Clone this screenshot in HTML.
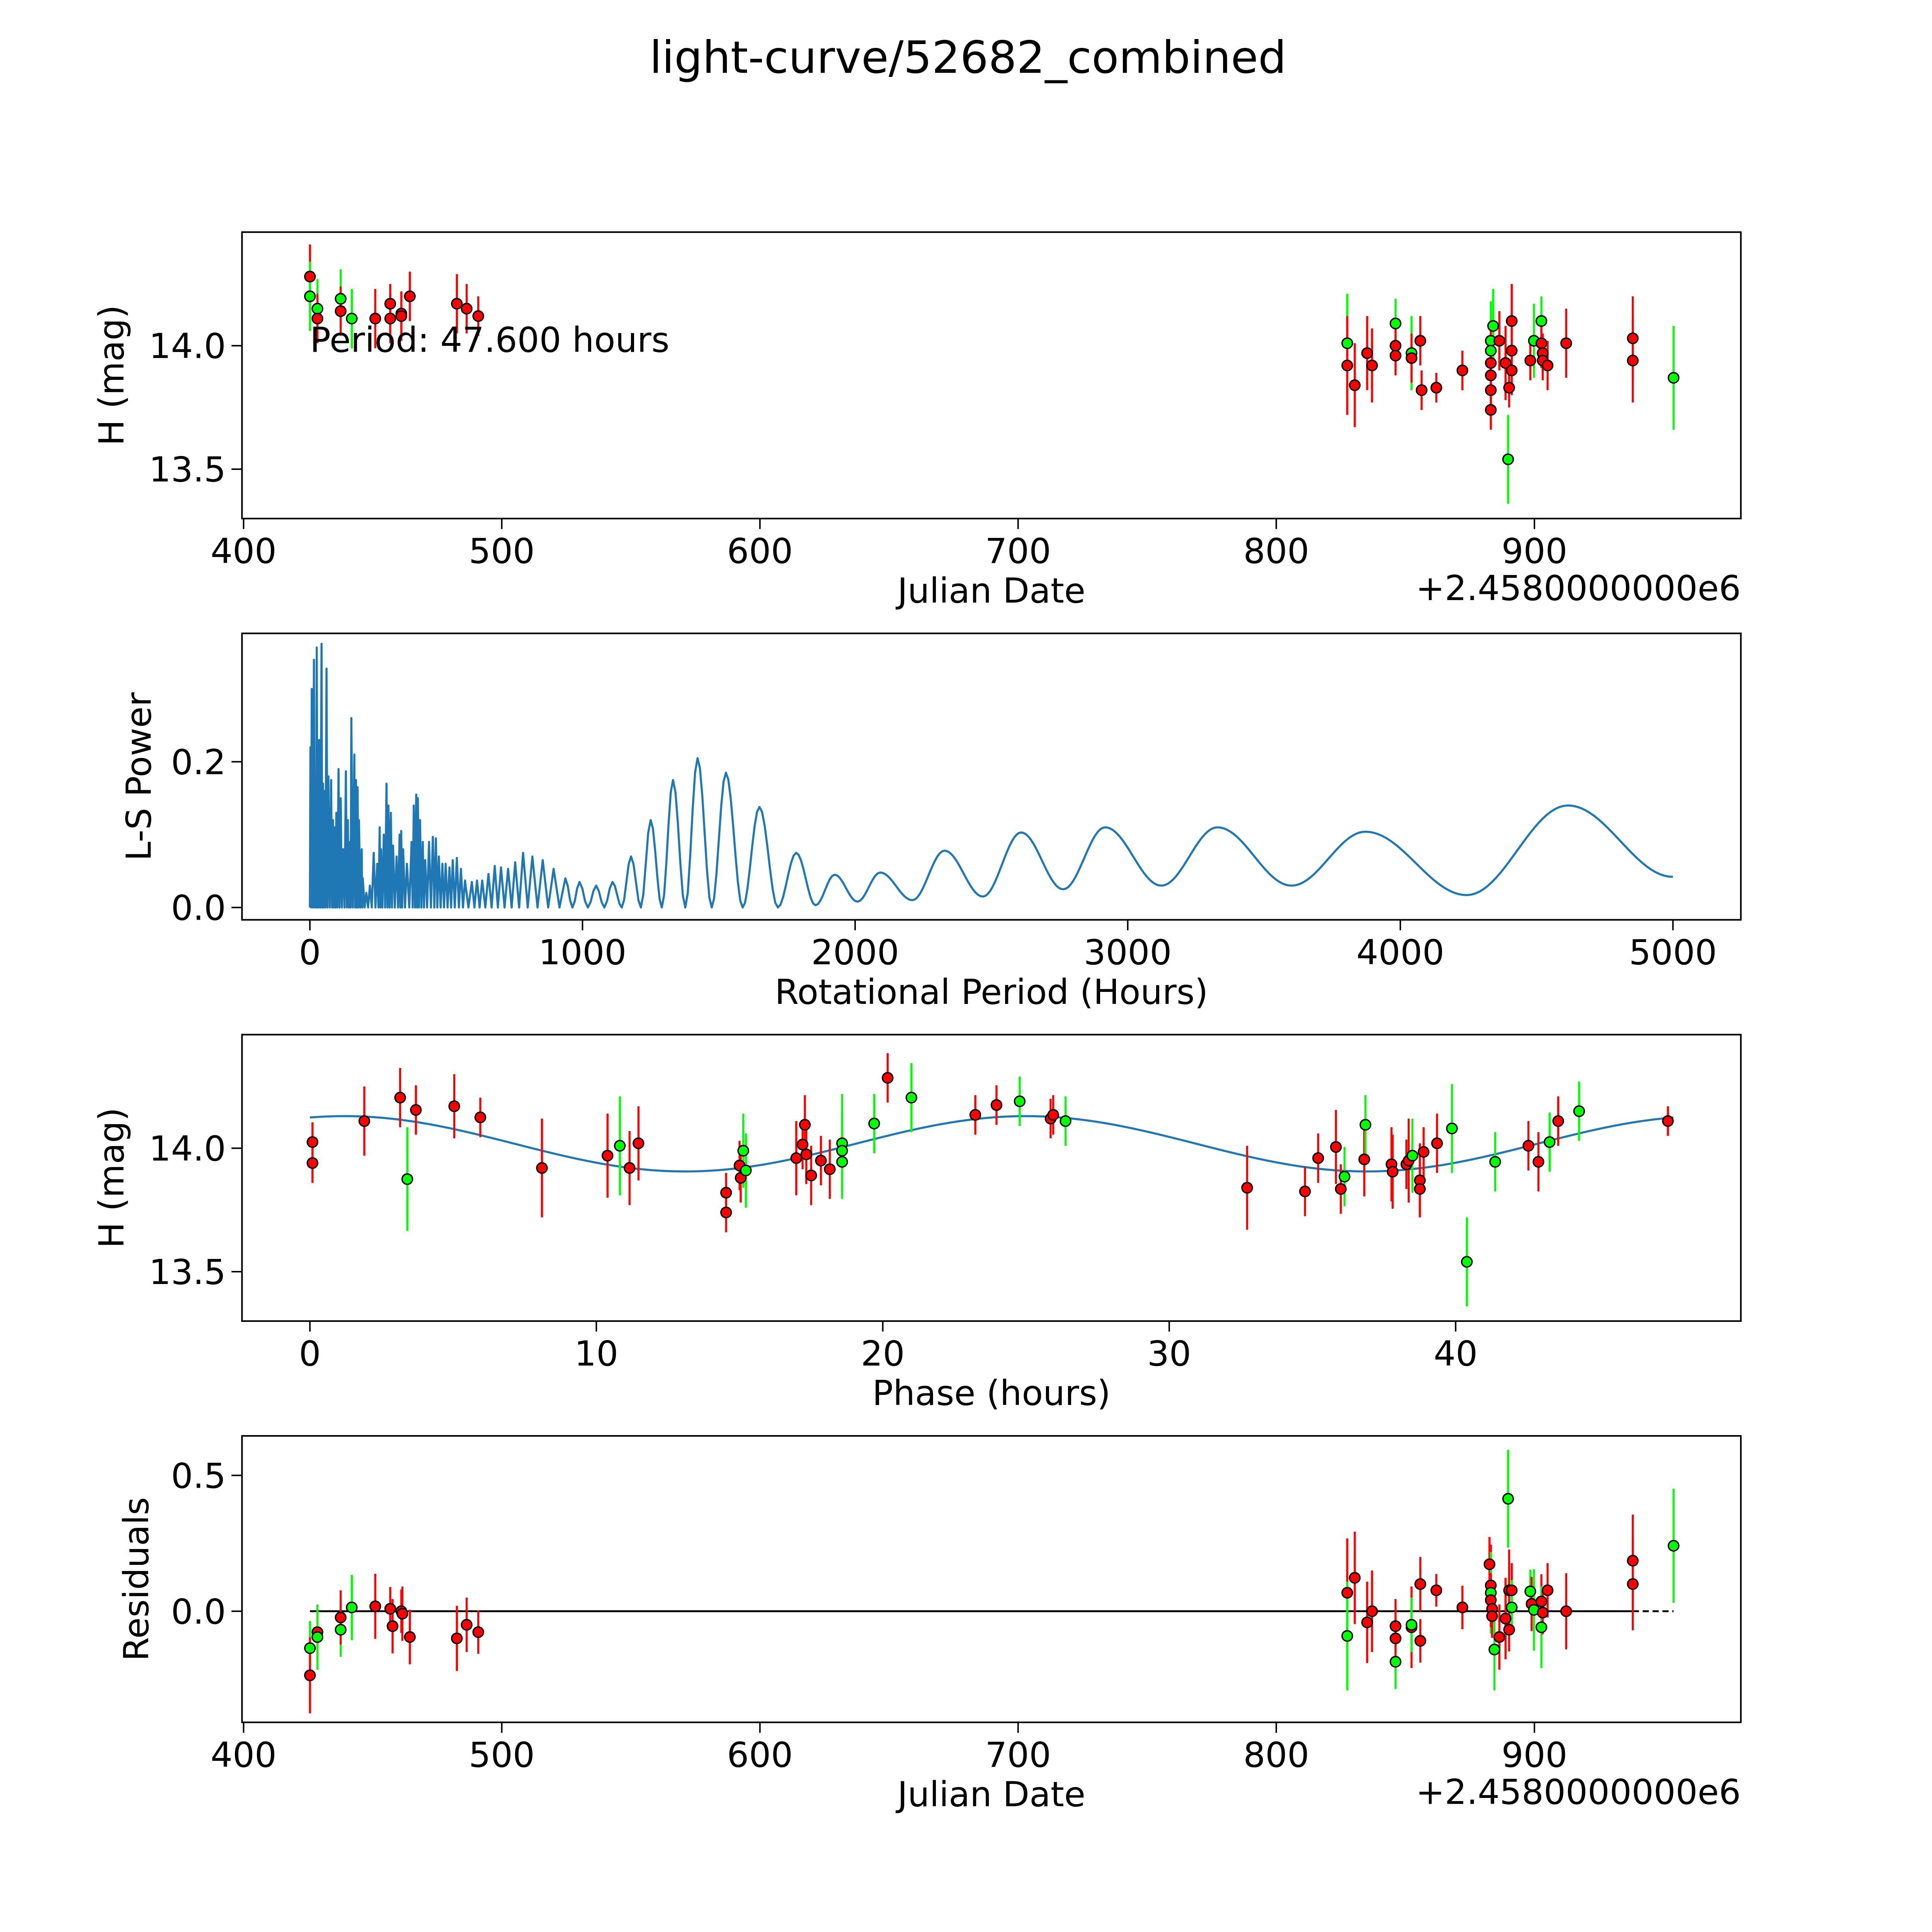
<!DOCTYPE html>
<html><head><meta charset="utf-8"><style>
html,body{margin:0;padding:0;background:#fff;width:5400px;height:5400px;overflow:hidden;}
svg{display:block;width:5400px;height:5400px;}
text{font-family:"DejaVu Sans","Liberation Sans",sans-serif;fill:#000;}
</style></head><body>
<svg id="fig" xmlns="http://www.w3.org/2000/svg" width="5400" height="5400" viewBox="0 0 1690 1690" preserveAspectRatio="xMinYMin meet">
<rect x="0" y="0" width="1690" height="1690" fill="#fff"/>
<text x="784" y="59" font-size="36" text-anchor="middle">light-curve/52682_combined</text>
</svg>
<script>
// ---------- data ----------
const lcJd = [425.7,425.7,428.6,428.6,437.6,437.6,441.9,451.0,456.8,456.8,461.1,461.1,464.4,482.6,486.4,490.9,827.5,827.5,830.4,835.2,837.1,846.2,846.2,846.2,852.4,852.4,855.8,856.3,862.0,872.1,883.1,883.1,883.1,883.1,883.1,883.1,884.0,886.4,888.8,889.8,890.2,891.2,891.2,891.2,898.4,899.8,902.7,902.7,903.2,903.2,905.1,912.3,938.1,938.1,953.9];
const lcMag = [14.28,14.20,14.15,14.11,14.19,14.14,14.11,14.11,14.17,14.11,14.13,14.12,14.20,14.17,14.15,14.12,14.01,13.92,13.84,13.97,13.92,14.09,14.00,13.96,13.97,13.95,14.02,13.82,13.83,13.90,14.02,13.98,13.93,13.88,13.82,13.74,14.08,14.02,13.93,13.54,13.83,14.10,13.98,13.90,13.94,14.02,14.10,14.01,13.97,13.94,13.92,14.01,14.03,13.94,13.87];
const lcErr = [0.13,0.14,0.12,0.1,0.12,0.1,0.12,0.12,0.08,0.1,0.08,0.1,0.1,0.12,0.1,0.08,0.2,0.2,0.17,0.15,0.15,0.1,0.1,0.08,0.15,0.1,0.1,0.08,0.06,0.08,0.15,0.2,0.15,0.1,0.1,0.08,0.15,0.12,0.15,0.18,0.08,0.15,0.1,0.1,0.08,0.15,0.1,0.1,0.08,0.08,0.1,0.14,0.17,0.17,0.21];
const lcBand = ['r','g','g','r','g','r','g','r','r','r','r','r','r','r','r','r','g','r','r','r','r','g','r','r','g','r','r','r','r','r','g','g','r','r','r','r','g','r','r','g','r','r','r','r','r','g','g','r','r','r','r','r','r','r','g'];

const lsPeakPeriods = [2,6.8,14.9,20.3,25.1,30.5,33.9,42.7,48.1,52.2,61,67.8,77.9,84.7,91.5,96.9,105,113,122,132,139,147,152,163,169,175,180,190,194,207,220,234,247,256,261,271,281,288,297,305,318,329,335,342,356,373,381,390,396,404,414,423,437,451,462,473,486,498,512,524,539,554,569,594,613,632,655,678,701,727,753,782,816,854,894,937,989,1050,1110,1178,1250,1332,1422,1526,1649,1784,1925,2092,2328,2609,2917,3329,3872,4615];
const lsPeakPowers = [0.22,0.30,0.34,0.16,0.357,0.16,0.23,0.362,0.17,0.16,0.328,0.18,0.175,0.12,0.11,0.13,0.19,0.15,0.08,0.187,0.12,0.09,0.26,0.21,0.175,0.165,0.12,0.08,0.04,0.02,0.03,0.075,0.06,0.11,0.08,0.10,0.17,0.14,0.13,0.085,0.07,0.10,0.105,0.08,0.06,0.09,0.14,0.155,0.15,0.12,0.09,0.065,0.09,0.097,0.095,0.07,0.06,0.06,0.055,0.065,0.068,0.053,0.037,0.035,0.037,0.037,0.046,0.057,0.055,0.053,0.062,0.075,0.07,0.065,0.053,0.04,0.035,0.03,0.035,0.07,0.12,0.175,0.205,0.185,0.138,0.075,0.045,0.048,0.078,0.103,0.11,0.11,0.104,0.14];
const lsTroughPowers = [0.0,0.0,0.0,0.0,0.0,0.0,0.0,0.0,0.0,0.0,0.0,0.0,0.0,0.0,0.0,0.0,0.0,0.0,0.0,0.0,0.0,0.0,0.0,0.0,0.0,0.0,0.0,0.0,0.0,0.0,0.0,0.0,0.0,0.0,0.0,0.0,0.0,0.0,0.0,0.0,0.0,0.0,0.0,0.0,0.0,0.0,0.0,0.0,0.0,0.0,0.0,0.0,0.0,0.0,0.0,0.0,0.0,0.0,0.0,0.0,0.0,0.0,0.0,0.0,0.0,0.0,0.0,0.0,0.0,0.0,0.0,0.0,0.0,0.0,0.0,0.0,0.0,0.0,0.0,0.0,0.0,0.0,0.0,0.0,0.0,0.003,0.008,0.01,0.015,0.025,0.03,0.03,0.017];
const lsEndPeriod = 5000;
const lsEndPower = 0.042;

const phPhase = [0.09,0.09,1.9,3.15,3.4,3.7,5.04,5.95,8.1,10.39,10.82,11.16,11.47,14.53,14.53,15.0,15.04,15.13,15.22,16.98,17.2,17.28,17.33,17.5,17.84,18.15,18.58,18.58,18.58,19.7,20.17,21.0,23.23,23.97,24.78,25.86,25.95,26.38,32.72,34.74,35.2,35.82,35.99,36.12,36.81,36.85,37.76,37.8,38.28,38.36,38.49,38.75,38.75,38.88,39.35,39.87,40.39,41.38,42.54,42.89,43.28,43.58,44.31,47.41];
const phMag = [14.025,13.94,14.11,14.205,13.875,14.155,14.17,14.125,13.92,13.97,14.01,13.92,14.02,13.82,13.74,13.93,13.88,13.99,13.91,13.96,14.015,14.095,13.975,13.89,13.95,13.915,14.02,13.99,13.945,14.1,14.285,14.205,14.135,14.175,14.19,14.12,14.135,14.11,13.84,13.825,13.96,14.005,13.835,13.885,13.955,14.095,13.935,13.905,13.935,13.95,13.97,13.87,13.835,13.985,14.02,14.08,13.54,13.945,14.01,13.945,14.025,14.11,14.15,14.11];
const phErr = [0.08,0.08,0.14,0.12,0.21,0.1,0.13,0.08,0.2,0.17,0.2,0.15,0.15,0.08,0.08,0.1,0.1,0.15,0.15,0.15,0.1,0.12,0.12,0.12,0.1,0.12,0.2,0.15,0.15,0.12,0.1,0.14,0.08,0.08,0.1,0.08,0.08,0.1,0.17,0.1,0.1,0.15,0.1,0.12,0.15,0.12,0.15,0.15,0.1,0.17,0.15,0.15,0.1,0.1,0.12,0.18,0.18,0.12,0.1,0.12,0.12,0.1,0.12,0.06];
const phBand = ['r','r','r','r','g','r','r','r','r','r','g','r','r','r','r','r','r','g','g','r','r','r','r','r','r','r','g','g','g','g','r','g','r','r','g','r','r','g','r','r','r','r','r','g','r','g','r','r','r','r','g','r','r','r','r','g','g','g','r','r','g','r','g','r'];
const fitMean = 14.018;
const fitAmp = 0.112;
const fitPeriod = 23.8;
const fitPhase0 = 1.2;

const resJd = [425.7,425.7,428.6,428.6,437.6,437.6,441.9,451.0,456.8,457.7,461.1,461.5,464.4,482.6,486.4,490.9,827.5,827.5,830.4,835.2,837.1,846.2,846.2,846.2,852.4,852.4,855.8,855.8,862.0,872.1,882.6,883.1,883.1,883.1,883.6,883.6,884.5,886.4,888.8,889.8,890.2,890.2,891.2,891.2,898.4,898.9,899.8,902.7,902.7,903.2,905.1,912.3,938.1,938.1,953.9];
const resVal = [-0.136,-0.236,-0.077,-0.095,-0.068,-0.023,0.014,0.018,0.009,-0.055,0,-0.009,-0.095,-0.1,-0.05,-0.077,0.068,-0.091,0.123,-0.041,0,-0.186,-0.055,-0.1,-0.059,-0.05,0.1,-0.109,0.077,0.014,0.173,0.095,0.068,0.041,0.009,-0.018,-0.141,-0.095,-0.027,0.414,-0.068,0.077,0.077,0.014,0.073,0.027,0.005,0.036,-0.059,-0.005,0.077,0,0.186,0.1,0.241];
const resErr = [0.1,0.14,0.1,0.12,0.1,0.1,0.12,0.12,0.08,0.1,0.08,0.1,0.1,0.12,0.1,0.08,0.2,0.2,0.17,0.15,0.15,0.1,0.1,0.08,0.15,0.1,0.1,0.08,0.06,0.08,0.1,0.15,0.15,0.1,0.1,0.08,0.15,0.12,0.15,0.18,0.08,0.15,0.1,0.1,0.08,0.1,0.15,0.1,0.15,0.08,0.1,0.14,0.17,0.17,0.21];
const resBand = ['g','r','r','g','g','r','g','r','r','r','r','r','r','r','r','r','r','g','r','r','r','g','r','r','r','g','r','r','r','r','r','r','g','r','r','r','g','r','r','g','r','r','r','g','g','r','g','r','g','r','r','r','r','r','g'];

const jdTicks = [400,500,600,700,800,900];
const lsTicksX = [0,1000,2000,3000,4000,5000];
const lsTicksY = [0.0,0.2];
const phTicksX = [0,10,20,30,40];
const magTicks = [14.0,13.5];
const resTicks = [0.0,0.5];

// ---------- drawing ----------
const svg = document.getElementById('fig');
const NS = 'http://www.w3.org/2000/svg';
function mk(tag, attrs, parent) {
  const e = document.createElementNS(NS, tag);
  for (const k in attrs) e.setAttribute(k, attrs[k]);
  (parent || svg).appendChild(e);
  return e;
}
const RED = '#ff0000', GRN = '#00ff00';
const L = 196, R = 1410;
const FS = 28;

function linScale(d0, d1, r0, r1) { return v => r0 + (v - d0) * (r1 - r0) / (d1 - d0); }

function axesFrame(name, top, bottom, xTicks, xs, xFmt, yTicks, ys, yFmt, xlabel, ylabel, ylabelX) {
  const g = mk('g', {});
  
  
  const fr = mk('rect', {x: L, y: top, width: R - L, height: bottom - top, fill: 'none', stroke: '#000', 'stroke-width': 1.3}, g);
  
  
  xTicks.forEach(t => {
    const x = xs(t);
    const tl = mk('line', {x1: x, x2: x, y1: bottom, y2: bottom + 8.5, stroke: '#000', 'stroke-width': 1.2}, g);
    
    
    const tx = mk('text', {x: x, y: bottom + 36, 'font-size': FS, 'text-anchor': 'middle'}, g);
    tx.textContent = xFmt(t);
    
    
  });
  yTicks.forEach(t => {
    const y = ys(t);
    const tl = mk('line', {x1: L - 8.5, x2: L, y1: y, y2: y, stroke: '#000', 'stroke-width': 1.2}, g);
    
    
    const tx = mk('text', {x: L - 13, y: y + 10, 'font-size': FS, 'text-anchor': 'end'}, g);
    tx.textContent = yFmt(t);
    
    
  });
  const xl = mk('text', {x: (L + R) / 2, y: bottom + 68, 'font-size': FS, 'text-anchor': 'middle'}, g);
  xl.textContent = xlabel;
  
  
  const cy = (top + bottom) / 2;
  const yl = mk('text', {x: ylabelX, y: cy, 'font-size': FS, 'text-anchor': 'middle', transform: 'rotate(-90 ' + ylabelX + ' ' + cy + ')'}, g);
  yl.textContent = ylabel;
  
  
  return g;
}

function errPoints(name, xsArr, ysArr, errArr, bands, xs, ys, parent) {
  const g = mk('g', {}, parent);
  
  
  for (let i = 0; i < xsArr.length; i++) {
    const x = xs(xsArr[i]);
    const c = bands[i] === 'g' ? GRN : RED;
    const eb = mk('line', {x1: x, x2: x, y1: ys(ysArr[i] - errArr[i]), y2: ys(ysArr[i] + errArr[i]), stroke: c, 'stroke-width': 1.7}, g);
    
    
  }
  for (let i = 0; i < xsArr.length; i++) {
    const c = bands[i] === 'g' ? GRN : RED;
    const pt = mk('circle', {cx: xs(xsArr[i]), cy: ys(ysArr[i]), r: 4.2, fill: c, stroke: '#000', 'stroke-width': 1.1}, g);
    
    
  }
}

// Panel 1: light curve
const jdX = linScale(400, 500, 197.3, 406.4);
const p1Y = linScale(14.0, 13.5, 280, 380);
const f1 = v => v.toFixed(1);
const g1 = axesFrame('light-curve-panel', 188, 420, jdTicks, jdX, t => String(t), magTicks, p1Y, f1, 'Julian Date', 'H (mag)', 100);
const off1 = mk('text', {x: R, y: 486, 'font-size': FS, 'text-anchor': 'end'}, g1);
off1.textContent = '+2.4580000000e6';


errPoints('light-curve-points', lcJd, lcMag, lcErr, lcBand, jdX, p1Y, g1);
const per = mk('text', {x: 251, y: 285, 'font-size': FS}, g1);
per.textContent = 'Period: 47.600 hours';



// Panel 2: periodogram
const lsX = linScale(0, 5000, 251, 1355);
const lsY = linScale(0, 0.2, 735, 617);
const g2 = axesFrame('periodogram-panel', 513, 745, lsTicksX, lsX, t => String(t), lsTicksY, lsY, f1, 'Rotational Period (Hours)', 'L-S Power', 122);
(function () {
  const ext = [[0, 0]];
  for (let i = 0; i < lsPeakPeriods.length; i++) {
    ext.push([lsPeakPeriods[i], lsPeakPowers[i]]);
    if (i < lsPeakPeriods.length - 1) ext.push([(lsPeakPeriods[i] + lsPeakPeriods[i + 1]) / 2, lsTroughPowers[i]]);
  }
  ext.push([lsEndPeriod, lsEndPower]);
  let d = 'M' + lsX(ext[0][0]).toFixed(2) + ' ' + lsY(ext[0][1]).toFixed(2);
  for (let i = 1; i < ext.length; i++) {
    const [p0, v0] = ext[i - 1], [p1, v1] = ext[i];
    const n = Math.max(2, Math.min(24, Math.round((lsX(p1) - lsX(p0)) / 2)));
    for (let k = 1; k <= n; k++) {
      const t = k / n;
      const p = p0 + (p1 - p0) * t;
      const v = v0 + (v1 - v0) * (1 - Math.cos(Math.PI * t)) / 2;
      d += ' L' + lsX(p).toFixed(2) + ' ' + lsY(v).toFixed(2);
    }
  }
  const path = mk('path', {d: d, fill: 'none', stroke: '#1f77b4', 'stroke-width': 1.7, 'stroke-linejoin': 'round'}, g2);
  
  
})();

// Panel 3: phase-folded
const phX = linScale(0, 40, 251, 1179);
const p3Y = linScale(14.0, 13.5, 930, 1030);
const g3 = axesFrame('phase-panel', 838, 1070, phTicksX, phX, t => String(t), magTicks, p3Y, f1, 'Phase (hours)', 'H (mag)', 100);
(function () {
  let d = '';
  for (let k = 0; k <= 300; k++) {
    const p = 47.6 * k / 300;
    const m = fitMean + fitAmp * Math.cos(2 * Math.PI * (p - fitPhase0) / fitPeriod);
    d += (k ? ' L' : 'M') + phX(p).toFixed(2) + ' ' + p3Y(m).toFixed(2);
  }
  const path = mk('path', {d: d, fill: 'none', stroke: '#1f77b4', 'stroke-width': 1.7}, g3);
  
  
})();
errPoints('phase-points', phPhase, phMag, phErr, phBand, phX, p3Y, g3);

// Panel 4: residuals
const p4Y = linScale(0, 0.5, 1305, 1195);
const g4 = axesFrame('residuals-panel', 1163, 1395, jdTicks, jdX, t => String(t), resTicks, p4Y, f1, 'Julian Date', 'Residuals', 120);
const off4 = mk('text', {x: R, y: 1461, 'font-size': FS, 'text-anchor': 'end'}, g4);
off4.textContent = '+2.4580000000e6';


const z1 = mk('line', {x1: jdX(425.7), x2: jdX(938.1), y1: p4Y(0), y2: p4Y(0), stroke: '#000', 'stroke-width': 1.5}, g4);


const z2 = mk('line', {x1: jdX(938.1), x2: jdX(953.9), y1: p4Y(0), y2: p4Y(0), stroke: '#000', 'stroke-width': 1.5, 'stroke-dasharray': '5,3'}, g4);


errPoints('residual-points', resJd, resVal, resErr, resBand, jdX, p4Y, g4);
</script>
</body></html>
